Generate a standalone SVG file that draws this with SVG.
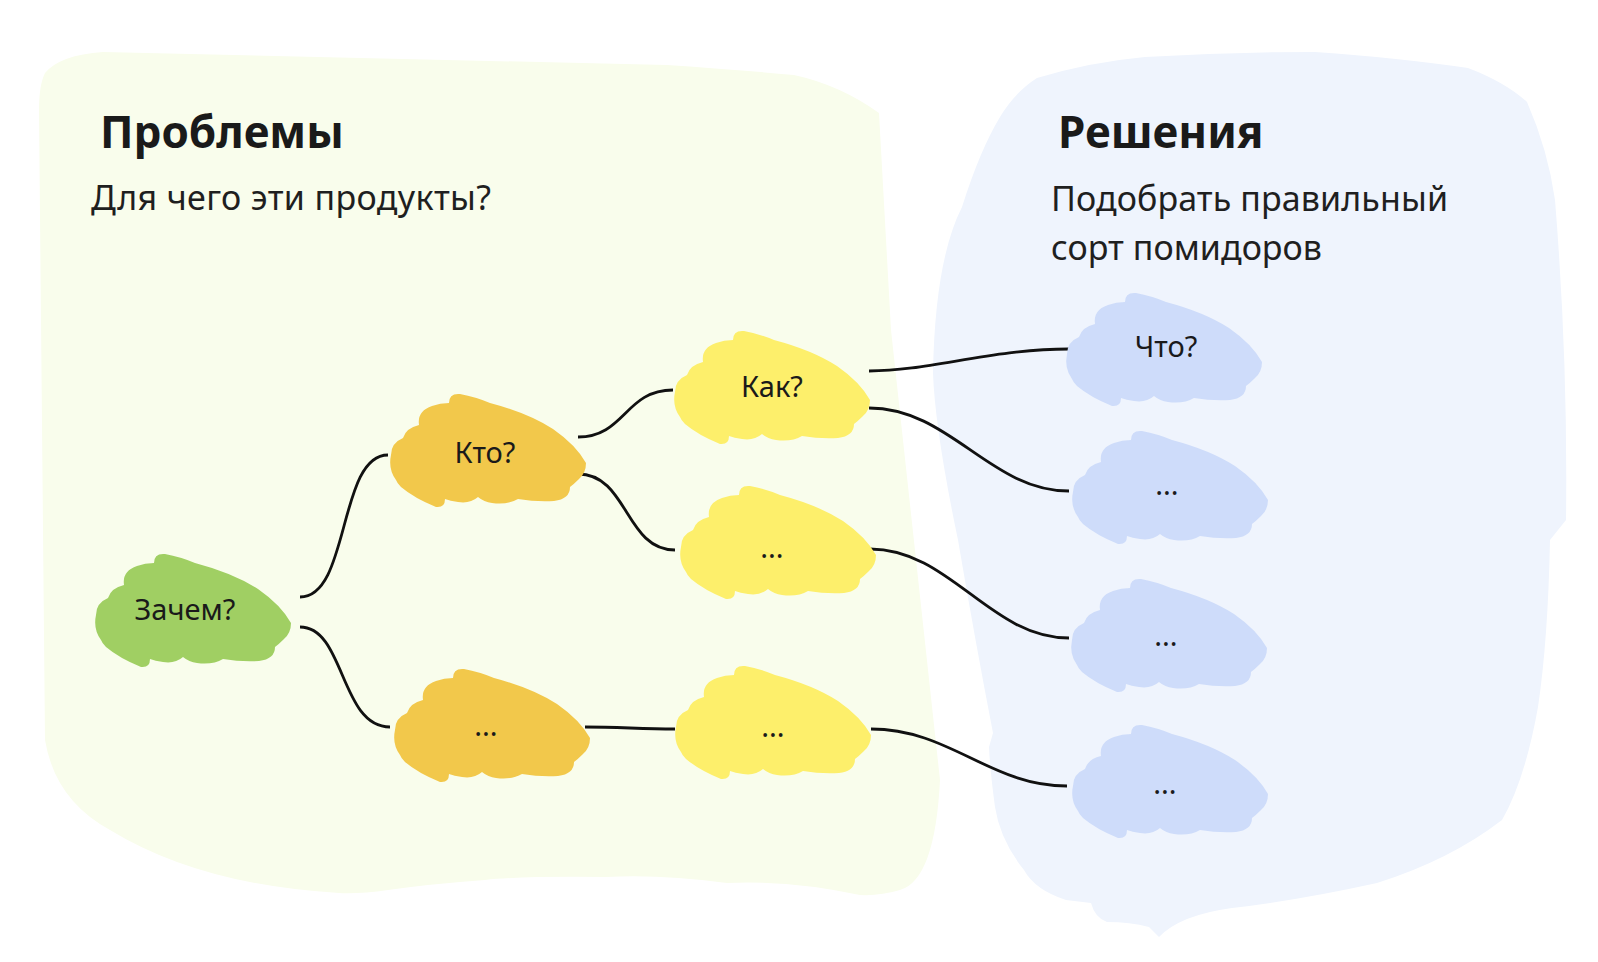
<svg xmlns="http://www.w3.org/2000/svg" xmlns:xlink="http://www.w3.org/1999/xlink" width="1598" height="962" viewBox="0 0 1598 962">
<defs>
<style>
.bgL{fill:#F9FDEC}
.bgR{fill:#EFF4FD}
.h{font-family:"Noto Sans","Liberation Sans",sans-serif;font-weight:700;font-size:44px;fill:#1a1a1a}
.s{font-family:"Noto Sans","Liberation Sans",sans-serif;font-size:34px;fill:#1f1f1f}
.t{font-family:"Noto Sans","Liberation Sans",sans-serif;font-size:29px;fill:#1a1a1a;text-anchor:middle}
.green{fill:#A0CF63}
.orange{fill:#F2C84B}
.yellow{fill:#FDEF6B}
.blue{fill:#CEDCFA}
.c{fill:none;stroke:#111;stroke-width:2.8;stroke-linecap:butt}
</style>
<path id="cloud" d="M8,87 Q0,76 3,62 Q3,50 15,45 Q18,35 31,32 Q29,18 44,13 Q52,10 61,10 Q61,0 72,1 Q88,4 102,10 Q140,20 165,36 Q188,52 198,70 Q198,80 191,86 Q186,91 182,94 Q182,106 166,108 Q148,109 130,106 Q120,112 104,110 Q96,109 90,104 Q82,111 70,109 Q62,108 57,106 Q57,115 48,114 Q26,105 13,94 Q9,90 8,87 Z"/>
</defs>
<g id="backgrounds">
<path class="bgL" d="M45,73 Q60,55 103,52 L667,65 Q740,70 794,75 Q840,85 879,113 L891,330 L940,780 Q935,880 900,890 Q880,896 860,895 Q790,880 727,883 Q660,874 606,877 Q520,876 485,880 Q430,884 388,890 Q360,894 339,893 Q200,885 110,830 Q55,800 45,740 L39,110 Q39,85 45,73 Z"/>
<path class="bgR" d="M1037,78 Q1090,62 1145,57 Q1230,52 1315,52 Q1400,58 1468,68 Q1505,82 1527,102 Q1548,150 1555,200 Q1568,360 1566,520 L1550,540 Q1548,640 1538,707 Q1525,780 1502,820 Q1450,860 1377,883 Q1300,900 1232,908 Q1180,915 1159,937 Q1150,928 1149,927 Q1130,922 1107,922 Q1095,918 1091,903 L1066,900 Q1035,890 1024,870 Q1000,840 995,807 Q990,770 989,747 L993,733 Q975,640 958,540 Q935,430 933,373 Q935,260 962,207 Q980,150 1000,117 Q1015,92 1037,78 Z"/>
</g>
<g id="headings">
<text class="h" x="100" y="148">Проблемы</text>
<text class="s" x="91" y="210" textLength="400" lengthAdjust="spacing">Для чего эти продукты?</text>
<text class="h" x="1058" y="148">Решения</text>
<text class="s" x="1051" y="211" textLength="397" lengthAdjust="spacing">Подобрать правильный</text>
<text class="s" x="1051" y="260" textLength="271" lengthAdjust="spacing">сорт помидоров</text>
</g>
<g id="connectors">
<path class="c" d="M300,597 C350,597 338,455 388,455"/>
<path class="c" d="M300,627 C345,627 340,727 390,727"/>
<path class="c" d="M578,437 C625,437 625,390 673,390"/>
<path class="c" d="M578,474 C628,474 625,550 675,550"/>
<path class="c" d="M585,727 C620,727 640,729 675,729"/>
<path class="c" d="M869,371 C930,371 990,349 1069,349"/>
<path class="c" d="M869,408 C950,408 990,491 1069,491"/>
<path class="c" d="M870,549 C950,549 990,638 1069,638"/>
<path class="c" d="M871,729 C950,729 990,786 1067,786"/>
</g>
<g id="n-zachem"><use xlink:href="#cloud" class="green" x="93" y="553"/><text class="t" x="185" y="620">Зачем?</text></g>
<g id="n-kto"><use xlink:href="#cloud" class="orange" x="388" y="393"/><text class="t" x="485" y="463">Кто?</text></g>
<g id="n-orange2"><use xlink:href="#cloud" class="orange" x="392" y="668"/><text class="t" x="486" y="736">...</text></g>
<g id="n-kak"><use xlink:href="#cloud" class="yellow" x="672" y="330"/><text class="t" x="772" y="397">Как?</text></g>
<g id="n-yellow2"><use xlink:href="#cloud" class="yellow" x="678" y="485"/><text class="t" x="772" y="558">...</text></g>
<g id="n-yellow3"><use xlink:href="#cloud" class="yellow" x="673" y="665"/><text class="t" x="773" y="737">...</text></g>
<g id="n-chto"><use xlink:href="#cloud" class="blue" x="1064" y="292"/><text class="t" x="1166" y="357">Что?</text></g>
<g id="n-blue2"><use xlink:href="#cloud" class="blue" x="1070" y="430"/><text class="t" x="1167" y="495">...</text></g>
<g id="n-blue3"><use xlink:href="#cloud" class="blue" x="1069" y="578"/><text class="t" x="1166" y="646">...</text></g>
<g id="n-blue4"><use xlink:href="#cloud" class="blue" x="1070" y="724"/><text class="t" x="1165" y="794">...</text></g>
</svg>
